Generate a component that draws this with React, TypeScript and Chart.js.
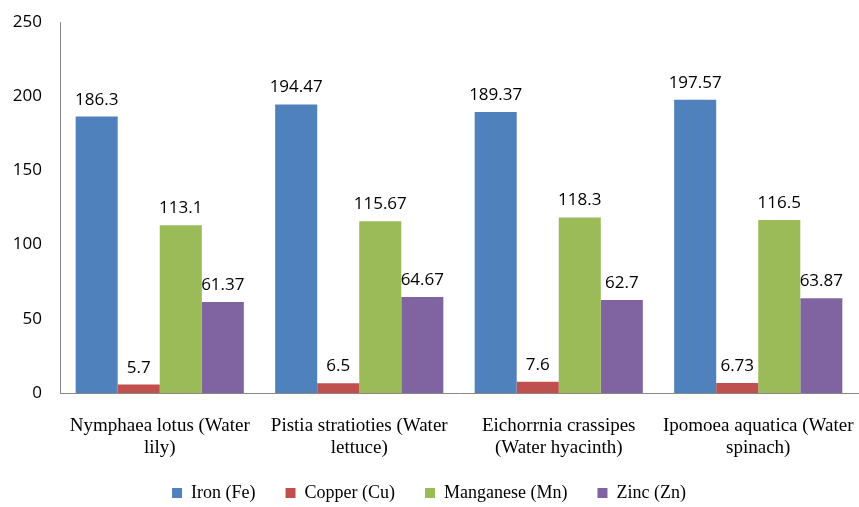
import React, { useEffect, useRef } from "react";
import { Chart, registerables } from "chart.js";

Chart.register(...registerables);

const categories: string[][] = [
  ["Nymphaea lotus (Water", "lily)"],
  ["Pistia stratioties (Water", "lettuce)"],
  ["Eichorrnia crassipes", "(Water hyacinth)"],
  ["Ipomoea aquatica (Water", "spinach)"],
];
const ironFe = [186.3, 194.47, 189.37, 197.57];
const copperCu = [5.7, 6.5, 7.6, 6.73];
const manganeseMn = [113.1, 115.67, 118.3, 116.5];
const zincZn = [61.37, 64.67, 62.7, 63.87];
const seriesNames = ["Iron (Fe)", "Copper (Cu)", "Manganese (Mn)", "Zinc (Zn)"];
const seriesColors = ["#4F81BD", "#C0504D", "#9BBB59", "#8064A2"];

const valueLabels = {
  id: "valueLabels",
  afterLayout(chart: any) {
    const x = chart.scales.x;
    if (x) x.bottom = chart.height;
  },
  afterDatasetsDraw(chart: any) {
    const ctx = chart.ctx;
    ctx.save();
    ctx.font = "17px 'Open Sans'";
    ctx.fillStyle = "#000";
    ctx.textAlign = "center";
    ctx.textBaseline = "alphabetic";
    chart.data.datasets.forEach((ds: any, i: number) => {
      const meta = chart.getDatasetMeta(i);
      meta.data.forEach((el: any, j: number) => {
        ctx.fillText(String(ds.data[j]), el.x, el.y - 12);
      });
    });
    ctx.restore();
  },
};

export default function App() {
  const ref = useRef<HTMLCanvasElement>(null);
  useEffect(() => {
    document.body.style.margin = "0";
    Chart.defaults.font.family = "Liberation Serif";
    const all = [ironFe, copperCu, manganeseMn, zincZn];
    const chart = new Chart(ref.current!, {
      type: "bar",
      data: {
        labels: categories,
        datasets: all.map((d, i) => ({
          label: seriesNames[i],
          data: d,
          backgroundColor: seriesColors[i],
          barPercentage: 1,
          categoryPercentage: 0.843,
        })),
      },
      options: {
        responsive: false,
        animation: false,
        layout: { padding: { top: 22, right: 1, left: 0, bottom: -5 } },
        scales: {
          x: {
            grid: { display: false, drawTicks: false },
            border: { display: true, color: "#888888", width: 1 },
            ticks: {
              padding: 22,
              color: "#000",
              font: { family: "Liberation Serif", size: 19, lineHeight: 1.158 },
              maxRotation: 0,
              autoSkip: false,
            },
            afterFit(scale: any) {
              scale.height = 61;
              scale.paddingLeft = 0;
              scale.paddingRight = 0;
            },
          },
          y: {
            min: 0,
            max: 250,
            grid: { display: false, drawTicks: false },
            border: { display: true, color: "#888888", width: 1 },
            ticks: {
              stepSize: 50,
              padding: 18,
              color: "#000",
              font: { family: "Open Sans", size: 17 },
            },
            afterFit(scale: any) {
              scale.width = 60;
              scale.paddingTop = 0;
              scale.paddingBottom = 0;
            },
          },
        },
        plugins: {
          legend: {
            position: "bottom",
            labels: {
              boxWidth: 10,
              boxHeight: 10,
              padding: 30,
              color: "#000",
              font: { family: "Liberation Serif", size: 18 },
            },
          },
          tooltip: { enabled: false },
        },
      },
      plugins: [valueLabels],
    });
    return () => chart.destroy();
  }, []);
  return (
    <div style={{ position: "relative", width: 859, height: 507 }}>
      <canvas ref={ref} width={859} height={507} style={{ display: "block" }} />
    </div>
  );
}
